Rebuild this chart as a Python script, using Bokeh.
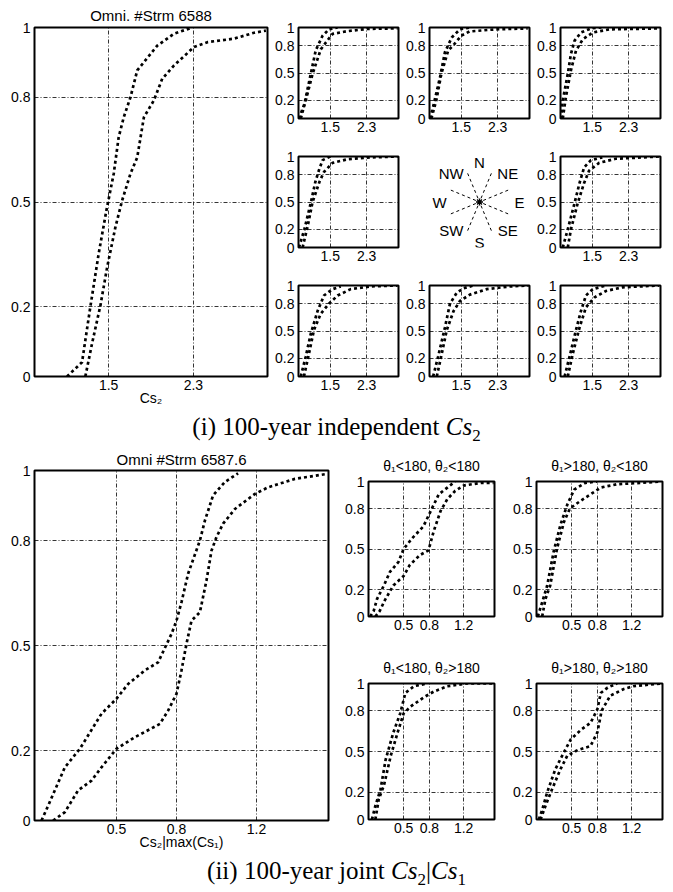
import math
from bokeh.plotting import figure
from bokeh.models import Range1d, FixedTicker, Div
from bokeh.layouts import row, column
from bokeh.embed import file_html
from bokeh.resources import INLINE
from bokeh.core.properties import value

# ---------------- data: (i) 100-year independent Cs2 ----------------
x_ticks_i = [1.5, 2.3]
x_tick_labels_i = ["1.5", "2.3"]
y_ticks = [0, 0.2, 0.5, 0.8, 1]
y_tick_labels = ["0", "0.2", "0.5", "0.8", "1"]

omni_i_title = "Omni. #Strm 6588"
omni_i_a_x = [1.107, 1.249, 1.327, 1.406, 1.479, 1.548, 1.595, 1.643, 1.706, 1.77, 1.959, 2.116, 2.29]
omni_i_a_y = [0, 0.041, 0.199, 0.352, 0.476, 0.581, 0.686, 0.743, 0.8, 0.877, 0.948, 0.982, 1.0]
omni_i_b_x = [1.28, 1.343, 1.422, 1.486, 1.564, 1.627, 1.706, 1.77, 1.833, 1.927, 2.006, 2.116, 2.306, 2.433, 2.684, 2.874, 2.985]
omni_i_b_y = [0, 0.094, 0.203, 0.313, 0.428, 0.504, 0.581, 0.628, 0.743, 0.791, 0.853, 0.891, 0.944, 0.958, 0.968, 0.985, 0.991]

nw_a_x = [0.81, 0.93, 1.07, 1.18, 1.33, 1.47, 1.66]
nw_a_y = [0, 0.16, 0.49, 0.75, 0.91, 0.98, 1.0]
nw_b_x = [0.85, 0.96, 1.11, 1.29, 1.44, 1.55, 1.88, 2.32, 2.98]
nw_b_y = [0, 0.2, 0.49, 0.76, 0.86, 0.93, 0.96, 0.985, 0.99]

n_a_x = [0.81, 0.88, 1.03, 1.14, 1.29, 1.47, 1.7]
n_a_y = [0, 0.13, 0.45, 0.73, 0.89, 0.98, 1.0]
n_b_x = [0.84, 0.95, 1.06, 1.21, 1.35, 1.5, 1.68, 2.26, 2.96]
n_b_y = [0, 0.2, 0.49, 0.745, 0.82, 0.91, 0.956, 0.98, 0.99]

ne_a_x = [0.81, 0.85, 0.96, 1.03, 1.11, 1.25, 1.47, 1.7]
ne_a_y = [0, 0.2, 0.49, 0.71, 0.855, 0.945, 0.99, 1.0]
ne_b_x = [0.85, 0.92, 1.03, 1.14, 1.29, 1.51, 1.88, 2.97]
ne_b_y = [0, 0.24, 0.53, 0.745, 0.87, 0.945, 0.98, 0.99]

w_a_x = [0.81, 0.93, 1.07, 1.17, 1.25, 1.33, 1.5]
w_a_y = [0, 0.2, 0.49, 0.72, 0.85, 0.96, 1.0]
w_b_x = [0.89, 1.0, 1.11, 1.26, 1.36, 1.55, 1.88, 2.39, 2.98]
w_b_y = [0, 0.23, 0.5, 0.72, 0.83, 0.93, 0.97, 0.99, 1.0]

e_a_x = [0.85, 0.96, 1.11, 1.22, 1.32, 1.47, 1.72]
e_a_y = [0, 0.2, 0.49, 0.71, 0.88, 0.96, 0.99]
e_b_x = [0.96, 1.03, 1.18, 1.32, 1.43, 1.65, 2.01, 2.6, 2.97]
e_b_y = [0, 0.2, 0.49, 0.71, 0.845, 0.93, 0.975, 0.99, 1.0]

sw_a_x = [0.85, 0.96, 1.07, 1.22, 1.36, 1.55, 1.73]
sw_a_y = [0, 0.22, 0.47, 0.72, 0.89, 0.96, 0.99]
sw_b_x = [0.92, 1.03, 1.14, 1.29, 1.47, 1.66, 1.95, 2.39, 2.98]
sw_b_y = [0, 0.25, 0.51, 0.69, 0.8, 0.89, 0.96, 0.99, 1.0]

s_a_x = [0.88, 0.99, 1.14, 1.25, 1.4, 1.55, 1.77]
s_a_y = [0, 0.22, 0.54, 0.8, 0.92, 0.97, 1.0]
s_b_x = [0.96, 1.07, 1.18, 1.33, 1.47, 1.69, 2.06, 2.57, 2.98]
s_b_y = [0, 0.25, 0.51, 0.72, 0.83, 0.9, 0.96, 0.99, 1.0]

se_a_x = [0.89, 1.0, 1.14, 1.25, 1.36, 1.51, 1.8]
se_a_y = [0, 0.22, 0.51, 0.72, 0.89, 0.96, 1.0]
se_b_x = [0.96, 1.07, 1.22, 1.36, 1.55, 1.8, 2.17, 2.97]
se_b_y = [0, 0.25, 0.54, 0.76, 0.87, 0.94, 0.98, 1.0]

compass_labels = ["E", "NE", "N", "NW", "W", "SW", "S", "SE"]
compass_label_angles = [0, 45, 90, 135, 180, 225, 270, 315]
compass_line_angles = [22.5, 67.5, 112.5, 157.5, 202.5, 247.5, 292.5, 337.5]

# ---------------- data: (ii) 100-year joint Cs2|Cs1 ----------------
x_ticks_ii = [0.5, 0.8, 1.2]
x_tick_labels_ii = ["0.5", "0.8", "1.2"]

omni_ii_title = "Omni #Strm 6587.6"
omni_ii_a_x = [0.125, 0.159, 0.184, 0.242, 0.317, 0.425, 0.5, 0.558, 0.642, 0.708, 0.775, 0.8, 0.825, 0.858, 0.917, 0.942, 0.983, 1.042, 1.108]
omni_ii_a_y = [0, 0.043, 0.076, 0.152, 0.205, 0.305, 0.348, 0.39, 0.429, 0.452, 0.533, 0.571, 0.624, 0.705, 0.8, 0.857, 0.929, 0.967, 0.992]
omni_ii_b_x = [0.183, 0.242, 0.308, 0.375, 0.425, 0.5, 0.592, 0.717, 0.758, 0.8, 0.825, 0.85, 0.875, 0.917, 0.95, 0.975, 1.0, 1.033, 1.092, 1.192, 1.258, 1.392, 1.55]
omni_ii_b_y = [0, 0.024, 0.086, 0.114, 0.152, 0.205, 0.238, 0.276, 0.314, 0.362, 0.429, 0.505, 0.571, 0.595, 0.686, 0.771, 0.81, 0.848, 0.89, 0.933, 0.952, 0.976, 0.99]

q_titles = ["θ₁<180, θ₂<180", "θ₁>180, θ₂<180", "θ₁<180, θ₂>180", "θ₁>180, θ₂>180"]

q1_a_x = [0.11, 0.15, 0.19, 0.27, 0.34, 0.44, 0.5, 0.6, 0.73, 0.83, 0.91, 1.01, 1.1]
q1_a_y = [0, 0.04, 0.13, 0.23, 0.33, 0.405, 0.5, 0.58, 0.667, 0.8, 0.905, 0.955, 1.0]
q1_b_x = [0.17, 0.22, 0.28, 0.38, 0.5, 0.57, 0.69, 0.79, 0.85, 0.93, 1.01, 1.1, 1.2, 1.4, 1.55]
q1_b_y = [0, 0.04, 0.12, 0.23, 0.3, 0.38, 0.455, 0.49, 0.63, 0.78, 0.87, 0.93, 0.97, 0.99, 0.99]

q2_a_x = [0.105, 0.156, 0.215, 0.29, 0.37, 0.45, 0.53, 0.66, 0.8]
q2_a_y = [0, 0.105, 0.23, 0.48, 0.68, 0.83, 0.94, 0.99, 1.0]
q2_b_x = [0.156, 0.195, 0.25, 0.33, 0.41, 0.48, 0.6, 0.72, 0.84, 1.03, 1.31, 1.54]
q2_b_y = [0, 0.13, 0.23, 0.505, 0.7, 0.8, 0.855, 0.905, 0.955, 0.98, 0.99, 1.0]

q3_a_x = [0.13, 0.17, 0.23, 0.29, 0.38, 0.46, 0.52, 0.62, 0.77]
q3_a_y = [0, 0.1, 0.22, 0.44, 0.64, 0.78, 0.93, 0.98, 1.0]
q3_b_x = [0.17, 0.21, 0.27, 0.35, 0.43, 0.5, 0.58, 0.74, 0.85, 1.01, 1.24, 1.55]
q3_b_y = [0, 0.15, 0.25, 0.47, 0.64, 0.78, 0.83, 0.9, 0.94, 0.98, 1.0, 1.0]

q4_a_x = [0.117, 0.156, 0.215, 0.31, 0.39, 0.49, 0.61, 0.72, 0.8, 0.84, 0.92, 1.03]
q4_a_y = [0, 0.07, 0.2, 0.37, 0.47, 0.59, 0.66, 0.71, 0.81, 0.93, 0.97, 1.0]
q4_b_x = [0.137, 0.195, 0.27, 0.37, 0.45, 0.57, 0.72, 0.8, 0.85, 0.95, 1.11, 1.22, 1.54]
q4_b_y = [0, 0.1, 0.22, 0.37, 0.47, 0.51, 0.54, 0.64, 0.8, 0.91, 0.96, 0.98, 1.0]

# ---------------- styling helpers ----------------
FONT = "Liberation Sans"
X_RANGE_I = (0.8, 3.0)
X_RANGE_II = (0.09, 1.56)


def make_panel(fw, fh, xr, xt, xtl, borders, title=None, xlabel=None,
               tick_fs="14px", title_fs="15px", title_standoff=6):
    bl, br, bt, bb = borders
    p = figure(frame_width=fw, frame_height=fh,
               x_range=Range1d(*xr), y_range=Range1d(0, 1),
               output_backend="svg", toolbar_location=None,
               min_border_left=bl, min_border_right=br,
               min_border_top=bt, min_border_bottom=bb)
    p.background_fill_color = "white"
    p.border_fill_color = "white"
    p.outline_line_color = "black"
    p.outline_line_width = 2
    p.xaxis.ticker = FixedTicker(ticks=xt)
    p.yaxis.ticker = FixedTicker(ticks=y_ticks)
    p.xaxis.major_label_overrides = dict(zip(xt, xtl))
    p.yaxis.major_label_overrides = dict(zip(y_ticks, y_tick_labels))
    for ax in p.axis:
        ax.axis_line_color = None
        ax.major_tick_line_color = None
        ax.minor_tick_line_color = None
        ax.major_tick_in = 0
        ax.major_tick_out = 0
        ax.minor_tick_in = 0
        ax.minor_tick_out = 0
        ax.major_label_text_font = FONT
        ax.major_label_text_font_size = tick_fs
        ax.major_label_text_color = "black"
    p.xaxis.major_label_standoff = 3
    p.yaxis.major_label_standoff = 4
    p.grid.grid_line_color = "black"
    p.grid.grid_line_width = 0.8
    p.grid.grid_line_dash = "4 2 1 2"
    if title:
        p.title.text = title
        p.title.align = "center"
        p.title.text_font = FONT
        p.title.text_font_size = title_fs
        p.title.text_font_style = "normal"
        p.title.text_color = "black"
        p.title.standoff = title_standoff
    if xlabel:
        p.xaxis.axis_label = xlabel
        p.xaxis.axis_label_text_font = FONT
        p.xaxis.axis_label_text_font_size = "14px"
        p.xaxis.axis_label_text_font_style = "normal"
        p.xaxis.axis_label_text_color = "black"
        p.xaxis.axis_label_standoff = -3
    return p


def add_curves(p, ax, ay, bx, by):
    for xs, ys in ((ax, ay), (bx, by)):
        p.line(xs, ys, line_color="black", line_width=2.7, line_dash="3 3")


# ---------------- section (i) ----------------
big_i = make_panel(233, 349, X_RANGE_I, x_ticks_i, x_tick_labels_i,
                   (34, 4, 27, 36), title=omni_i_title, xlabel="Cs₂", title_standoff=7)
add_curves(big_i, omni_i_a_x, omni_i_a_y, omni_i_b_x, omni_i_b_y)

small_data = {
    "NW": (nw_a_x, nw_a_y, nw_b_x, nw_b_y),
    "N": (n_a_x, n_a_y, n_b_x, n_b_y),
    "NE": (ne_a_x, ne_a_y, ne_b_x, ne_b_y),
    "W": (w_a_x, w_a_y, w_b_x, w_b_y),
    "E": (e_a_x, e_a_y, e_b_x, e_b_y),
    "SW": (sw_a_x, sw_a_y, sw_b_x, sw_b_y),
    "S": (s_a_x, s_a_y, s_b_x, s_b_y),
    "SE": (se_a_x, se_a_y, se_b_x, se_b_y),
}
grid_order = [["NW", "N", "NE"], ["W", None, "E"], ["SW", "S", "SE"]]
row_tops = [27, 10, 10]


def make_compass(bt):
    fw, fh = 100, 91
    c = figure(frame_width=fw, frame_height=fh, x_range=Range1d(-1, 1), y_range=Range1d(-1, 1),
               output_backend="svg", toolbar_location=None,
               x_axis_location=None, y_axis_location=None,
               min_border_left=27, min_border_right=4, min_border_top=bt, min_border_bottom=28)
    c.grid.visible = False
    c.outline_line_color = None
    c.background_fill_color = "white"
    c.border_fill_color = "white"
    sx, sy = fw / 2.0, fh / 2.0
    r0, r1 = 4.0, 32.0
    x0 = [r0 * math.cos(math.radians(a)) / sx for a in compass_line_angles]
    y0 = [r0 * math.sin(math.radians(a)) / sy for a in compass_line_angles]
    x1 = [r1 * math.cos(math.radians(a)) / sx for a in compass_line_angles]
    y1 = [r1 * math.sin(math.radians(a)) / sy for a in compass_line_angles]
    c.segment(x0, y0, x1, y1, line_color="black", line_width=1, line_dash="3 3")
    c.scatter([0], [0], marker="asterisk", size=7, line_color="black", line_width=1.3)
    rl = 40.0
    dx = [rl * math.cos(math.radians(a)) for a in compass_label_angles]
    dy = [-rl * math.sin(math.radians(a)) for a in compass_label_angles]
    c.text(x=[0] * 8, y=[0] * 8, text=compass_labels, x_offset=dx, y_offset=dy,
           text_align="center", text_baseline="middle",
           text_font=value(FONT), text_font_size="15px", text_color="black")
    return c


rows_i = []
for ri, names in enumerate(grid_order):
    figs = []
    for name in names:
        if name is None:
            figs.append(make_compass(row_tops[ri]))
        else:
            p = make_panel(100, 91, X_RANGE_I, x_ticks_i, x_tick_labels_i,
                           (27, 4, row_tops[ri], 28))
            add_curves(p, *small_data[name])
            figs.append(p)
    rows_i.append(row(*figs, spacing=0))
grid_i = column(*rows_i, spacing=0)
section_i = row(big_i, grid_i, spacing=0)

cap_style = ("width:673px;text-align:center;font-family:'Liberation Serif',serif;"
             "font-size:25px;color:black;white-space:nowrap;")
cap_i = Div(text=('<div style="%sheight:34px;line-height:30px;">(i) 100-year independent '
                  '<i>Cs</i><sub style="font-size:17px;line-height:0;">2</sub></div>') % cap_style,
            width=673, height=34, margin=0)

# ---------------- section (ii) ----------------
big_ii = make_panel(294, 350, X_RANGE_II, x_ticks_ii, x_tick_labels_ii,
                    (34, 6, 24, 36), title=omni_ii_title, xlabel="Cs₂|max(Cs₁)", title_standoff=5)
add_curves(big_ii, omni_ii_a_x, omni_ii_a_y, omni_ii_b_x, omni_ii_b_y)

q_data = [(q1_a_x, q1_a_y, q1_b_x, q1_b_y), (q2_a_x, q2_a_y, q2_b_x, q2_b_y),
          (q3_a_x, q3_a_y, q3_b_x, q3_b_y), (q4_a_x, q4_a_y, q4_b_x, q4_b_y)]
q_borders = [(34, 8, 35, 30), (34, 8, 35, 30), (34, 8, 37, 37), (34, 8, 37, 37)]
q_heights = [135, 135, 136, 136]
q_figs = []
for i in range(4):
    p = make_panel(126, q_heights[i], X_RANGE_II, x_ticks_ii, x_tick_labels_ii,
                   q_borders[i], title=q_titles[i], title_fs="14px", title_standoff=16)
    add_curves(p, *q_data[i])
    q_figs.append(p)
grid_ii = column(row(q_figs[0], q_figs[1], spacing=0), row(q_figs[2], q_figs[3], spacing=0), spacing=0)
section_ii = row(big_ii, grid_ii, spacing=0)

cap_ii = Div(text=('<div style="%sheight:36px;line-height:30px;">(ii) 100-year joint '
                   '<i>Cs</i><sub style="font-size:17px;line-height:0;">2</sub>|'
                   '<i>Cs</i><sub style="font-size:17px;line-height:0;">1</sub></div>') % cap_style,
             width=673, height=36, margin=0)

page = column(section_i, cap_i, section_ii, cap_ii, spacing=0)

open("out.html", "w").write(file_html(page, INLINE))
